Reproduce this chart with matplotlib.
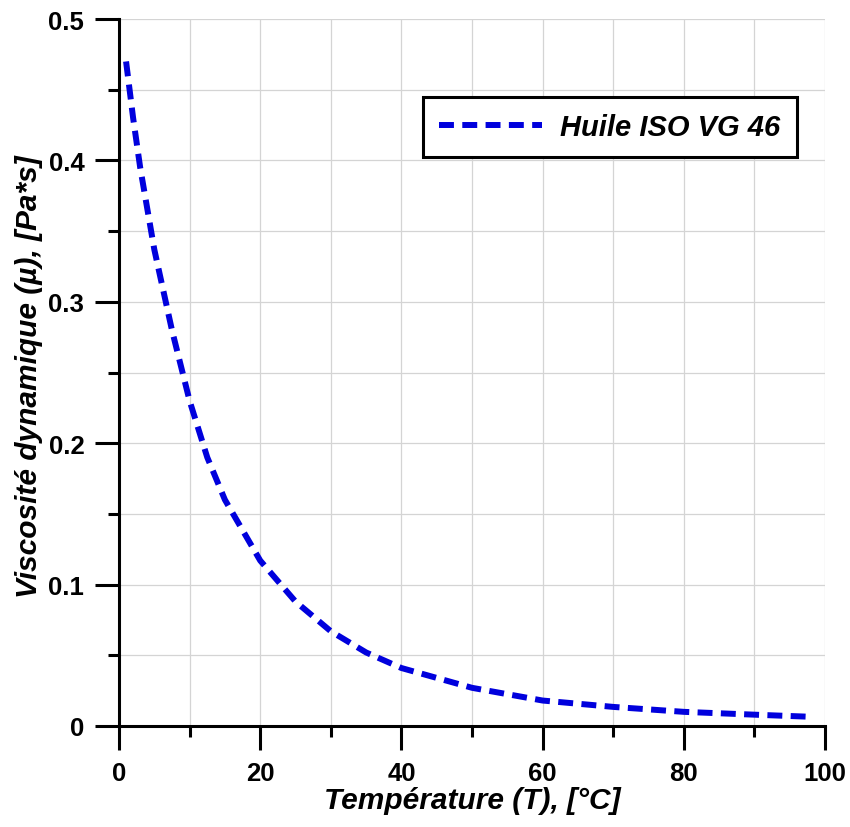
import matplotlib
matplotlib.use('Agg')
import matplotlib.pyplot as plt
import numpy as np

# values
temperature = [1, 2, 3, 5, 7.5, 10, 12.5, 15, 20, 25, 30, 35, 40, 50, 60, 70, 80, 90, 98]
viscosity = [0.47, 0.43, 0.395, 0.337, 0.28, 0.23, 0.19, 0.16, 0.117, 0.088, 0.067,
             0.052, 0.041, 0.027, 0.018, 0.0135, 0.010, 0.008, 0.0065]
x_ticks = [0, 20, 40, 60, 80, 100]
y_ticks = [0, 0.1, 0.2, 0.3, 0.4, 0.5]
y_tick_labels = ['0', '0.1', '0.2', '0.3', '0.4', '0.5']

plt.rcParams['font.family'] = ['Liberation Sans', 'DejaVu Sans']

fig = plt.figure(figsize=(8.5, 8.28), dpi=100)
ax = fig.add_axes([0.14, 0.122, 0.8306, 0.8538])

line, = ax.plot(temperature, viscosity, color='#0000dd', lw=4.3,
                label='Huile ISO VG 46')
line.set_dashes((2.5, 1.4))

ax.set_xlim(0, 100)
ax.set_ylim(0, 0.5)
ax.set_xticks(x_ticks)
ax.set_xticks(np.arange(10, 100, 20), minor=True)
ax.set_yticks(y_ticks)
ax.set_yticklabels(y_tick_labels)
ax.set_yticks(np.arange(0.05, 0.5, 0.1), minor=True)

ax.grid(True, which='both', color='#d4d4d4', lw=0.9)
ax.set_axisbelow(True)

for s in ['top', 'right']:
    ax.spines[s].set_visible(False)
for s in ['left', 'bottom']:
    ax.spines[s].set_linewidth(2.2)

ax.tick_params(which='major', direction='out', length=17, width=2.2,
               labelsize=18.5, pad=8)
ax.tick_params(which='minor', direction='out', length=8, width=2.2)
for lab in ax.get_xticklabels() + ax.get_yticklabels():
    lab.set_fontweight('bold')

ax.set_xlabel('Température (T), [°C]', fontsize=21.5, fontweight='bold',
              fontstyle='italic', labelpad=1)
ax.set_ylabel('Viscosité dynamique (µ), [Pa*s]', fontsize=21.5, fontweight='bold',
              fontstyle='italic', labelpad=2)
ax.yaxis.set_label_coords(-0.107, 0.495)

leg = ax.legend(loc='upper right', bbox_to_anchor=(0.96, 0.89), fancybox=False,
                framealpha=1, edgecolor='black', handlelength=3.5,
                prop={'size': 21, 'weight': 'bold', 'style': 'italic'},
                borderpad=0.55, handletextpad=0.65, borderaxespad=0)
leg.get_frame().set_linewidth(2.2)

fig.savefig('out.png', dpi=100)
